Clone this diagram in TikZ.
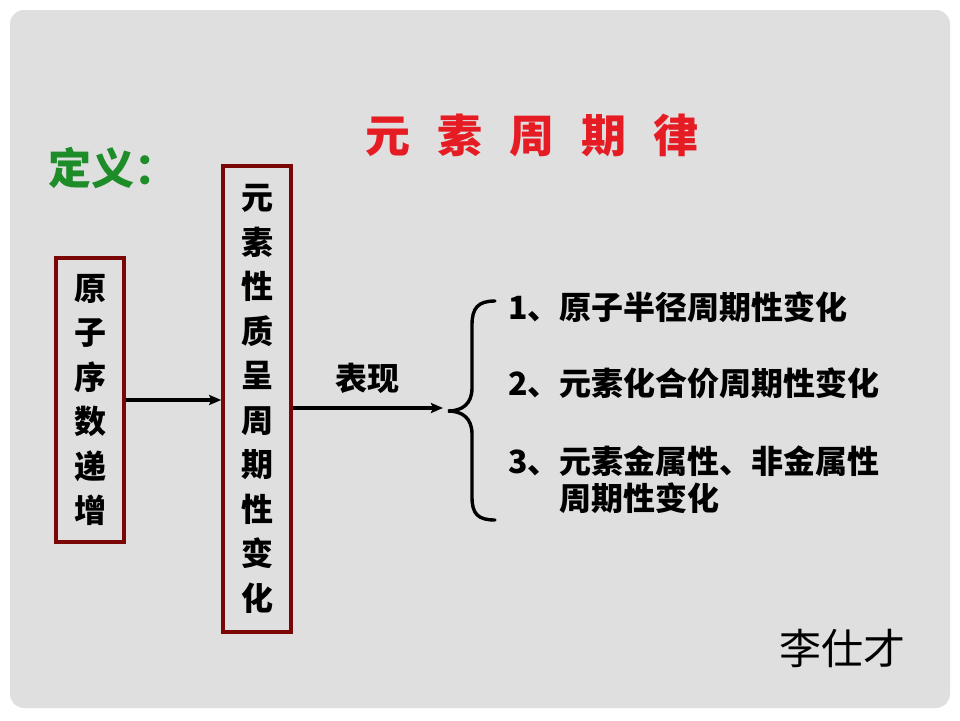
\documentclass[tikz,border=0pt]{standalone}
\usepackage{fontspec}
\usetikzlibrary{arrows.meta}
\newfontfamily\cjk{Noto Sans CJK SC}
\definecolor{slidebg}{RGB}{223,223,223}
\definecolor{boxred}{RGB}{122,6,6}
\definecolor{titlered}{RGB}{230,28,36}
\definecolor{defgreen}{RGB}{30,140,40}
\tikzset{
  vbox/.style={draw=boxred, line width=3.6pt, minimum width=68pt, inner sep=0pt, align=center,
    font=\cjk\bfseries\fontsize{32}{44.5}\selectfont},
  conn/.style={line width=3.2pt, -{Stealth[length=12pt,width=10pt,inset=2pt]}},
  itemtext/.style={anchor=west, inner sep=0pt, font=\cjk\bfseries\fontsize{32}{38}\selectfont},
}
\begin{document}
\begin{tikzpicture}[x=1pt,y=-1pt]
\useasboundingbox (0,0) rectangle (960,720);
\fill[white] (0,0) rectangle (960,720);
\fill[slidebg, rounded corners=14pt] (10,10) rectangle (950,708);

\node[inner sep=0pt, text=titlered, font=\cjk\bfseries\fontsize{45}{48}\selectfont] (title) at (532,135)
  {元\hspace{27pt}素\hspace{27pt}周\hspace{27pt}期\hspace{27pt}律};
\node[anchor=west, inner sep=0pt, text=defgreen, font=\cjk\bfseries\fontsize{43}{48}\selectfont] (def) at (48,168) {定义：};

\node[vbox, minimum height=284pt] (b1) at (90,400) {原\\子\\序\\数\\递\\增};
\node[vbox, minimum height=466pt] (b2) at (257,399) {元\\素\\性\\质\\呈\\周\\期\\性\\变\\化};

\draw[conn] (b1.east |- 0,400) -- (b2.west |- 0,400);
\coordinate (tip) at (443,408);
\draw[conn] (b2.east |- tip) -- (tip);
\node[inner sep=0pt, font=\cjk\bfseries\fontsize{32}{38}\selectfont] (biaoxian) at (367,378) {表现};

\coordinate (bt) at (495,301);
\coordinate (bm) at (448,411);
\coordinate (bb) at (495,520);
\draw[line width=3.4pt, line cap=round] (bt) .. controls (478,301) and (472,308) .. (472,325)
  -- (472,388) .. controls (472,404) and (462,411) .. (bm)
  .. controls (462,411) and (472,418) .. (472,434)
  -- (472,497) .. controls (472,514) and (478,520) .. (bb);

\node[itemtext] (i1) at (508,307) {1、原子半径周期性变化};
\node[itemtext] (i2) at (508,383) {2、元素化合价周期性变化};
\node[itemtext] (i3) at (508,461) {3、元素金属性、非金属性};
\node[itemtext] (i3b) at (559,498) {周期性变化};

\node[inner sep=0pt, font=\cjk\fontsize{42}{48}\selectfont] (author) at (842,648) {李仕才};
\end{tikzpicture}
\end{document}
